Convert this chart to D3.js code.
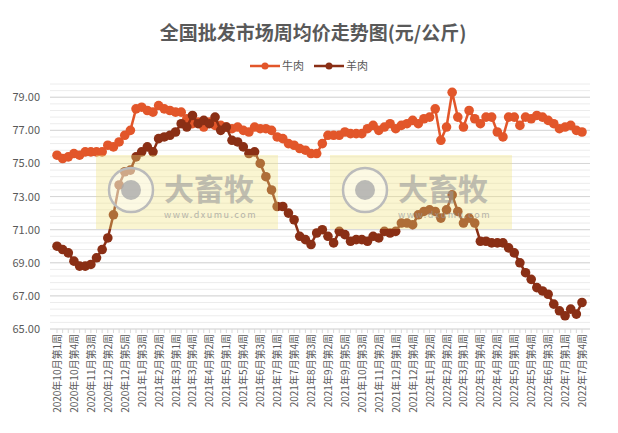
<!DOCTYPE html>
<html><head><meta charset="utf-8">
<script src="https://cdn.jsdelivr.net/npm/d3@7/dist/d3.min.js"></script>
<style>body{margin:0;background:#fff;font-family:"Noto Sans CJK SC",sans-serif}</style>
</head><body><svg id="c" width="618" height="433"></svg>
<script>
const tickLabels=["2020年10月第1周","2020年10月第4周","2020年11月第3周","2020年12月第2周","2020年12月第5周","2021年1月第3周","2021年2月第2周","2021年3月第1周","2021年3月第4周","2021年4月第2周","2021年5月第1周","2021年5月第4周","2021年6月第3周","2021年7月第1周","2021年7月第4周","2021年8月第3周","2021年9月第2周","2021年9月第5周","2021年10月第3周","2021年11月第2周","2021年12月第1周","2021年12月第4周","2022年1月第2周","2022年2月第2周","2022年3月第1周","2022年3月第4周","2022年4月第2周","2022年5月第1周","2022年5月第4周","2022年6月第3周","2022年7月第1周","2022年7月第4周"];
const beef=[75.5,75.3,75.4,75.6,75.5,75.7,75.7,75.7,75.7,76.1,76.0,76.3,76.7,77.0,78.3,78.4,78.2,78.1,78.5,78.3,78.2,78.1,78.1,77.7,77.4,77.5,77.2,77.5,77.3,77.3,77.2,77.1,77.2,77.0,76.9,77.2,77.1,77.1,77.0,76.6,76.5,76.2,76.1,75.9,75.8,75.6,75.6,76.2,76.7,76.7,76.7,76.9,76.8,76.8,76.8,77.1,77.3,77.0,77.2,77.4,77.1,77.3,77.4,77.6,77.4,77.7,77.8,78.3,76.4,77.2,79.3,77.8,77.2,78.2,77.7,77.4,77.8,77.8,76.9,76.6,77.8,77.8,77.3,77.8,77.7,77.9,77.8,77.6,77.4,77.1,77.2,77.3,77.0,76.9];
const mutton=[70.0,69.8,69.6,69.1,68.8,68.8,68.9,69.3,69.8,70.5,71.9,73.7,74.5,74.6,75.4,75.7,76.0,75.7,76.5,76.6,76.7,76.9,77.4,77.2,77.9,77.4,77.6,77.4,77.8,77.0,77.2,76.4,76.3,76.0,75.6,75.7,75.0,74.2,73.4,72.4,72.4,72.0,71.6,70.6,70.4,70.1,70.8,71.0,70.6,70.2,70.9,70.7,70.3,70.4,70.4,70.3,70.6,70.5,70.9,70.8,70.9,71.4,71.4,71.3,71.9,72.1,72.2,72.1,71.7,72.2,73.1,72.1,71.4,71.7,71.4,70.3,70.3,70.2,70.2,70.2,69.9,69.6,69.0,68.4,68.0,67.5,67.3,67.1,66.5,66.1,65.8,66.2,65.9,66.6];
const seriesNames=["牛肉","羊肉"];
const colors=["#e2562a","#8a2f15"];
const svg=d3.select("#c");
const n=beef.length;
const x=d3.scaleLinear().domain([0,n-1]).range([57,582]);
const y=d3.scaleLinear().domain([65,79.8]).range([329,84]);
const minor=d3.range(65,79.81,0.4);
svg.append("g").selectAll("line").data(minor).join("line")
 .attr("x1",50).attr("x2",590).attr("y1",d=>y(d)).attr("y2",d=>y(d)).attr("stroke","#ececec").attr("stroke-width",1);
const major=d3.range(65,79.1,2);
svg.append("g").selectAll("line").data(major).join("line")
 .attr("x1",50).attr("x2",590).attr("y1",d=>y(d)).attr("y2",d=>y(d)).attr("stroke","#d6d6d6").attr("stroke-width",1);
svg.append("g").selectAll("text").data(major).join("text")
 .attr("x",40).attr("y",d=>y(d)+4).attr("text-anchor","end").attr("font-size",11).attr("fill","#595959").text(d=>d.toFixed(2));
svg.append("g").selectAll("line").data(d3.range(n)).join("line")
 .attr("x1",d=>x(d)).attr("x2",d=>x(d)).attr("y1",329).attr("y2",333).attr("stroke","#d9d9d9");
svg.append("g").selectAll("text").data(tickLabels).join("text")
 .attr("transform",(d,i)=>`translate(${x(i*3)+4},334) rotate(-90)`).attr("text-anchor","end")
 .attr("font-size",10).attr("fill","#595959").text(d=>d);
const line=d3.line().x((d,i)=>x(i)).y(d=>y(d));
[beef,mutton].forEach((s,k)=>{
 svg.append("path").attr("d",line(s)).attr("fill","none").attr("stroke",colors[k]).attr("stroke-width",2.5);
 svg.append("g").selectAll("circle").data(s).join("circle").attr("cx",(d,i)=>x(i)).attr("cy",d=>y(d)).attr("r",4.8).attr("fill",colors[k]);
});
[96,330].forEach(wx=>{
 const g=svg.append("g");
 g.append("rect").attr("x",wx).attr("y",155).attr("width",182).attr("height",74).attr("fill","#f2e27a").attr("opacity",0.35);
 g.append("circle").attr("cx",wx+35).attr("cy",190).attr("r",22).attr("fill","#fff").attr("fill-opacity",0.4).attr("stroke","#bbb").attr("stroke-width",2.5);
 g.append("circle").attr("cx",wx+35).attr("cy",190).attr("r",10).attr("fill","#aaa").attr("opacity",0.8);
 g.append("text").attr("x",wx+68).attr("y",200).attr("font-size",30).attr("font-weight","bold").attr("fill","#999").attr("opacity",0.6).text("大畜牧");
 g.append("text").attr("x",wx+68).attr("y",218).attr("font-size",9).attr("fill","#999").attr("opacity",0.7).attr("letter-spacing",1.5).text("www.dxumu.com");
});
svg.append("text").attr("x",313).attr("y",40).attr("text-anchor","middle").attr("font-size",19).attr("font-weight","bold").attr("fill","#595959").text("全国批发市场周均价走势图(元/公斤)");
const lg=svg.append("g");
seriesNames.forEach((nm,k)=>{
 const lx=250+k*64;
 lg.append("line").attr("x1",lx).attr("x2",lx+30).attr("y1",66).attr("y2",66).attr("stroke",colors[k]).attr("stroke-width",2.5);
 lg.append("circle").attr("cx",lx+15).attr("cy",66).attr("r",3.5).attr("fill",colors[k]);
 lg.append("text").attr("x",lx+32).attr("y",70).attr("font-size",11).attr("fill","#595959").text(nm);
});
</script></body></html>
